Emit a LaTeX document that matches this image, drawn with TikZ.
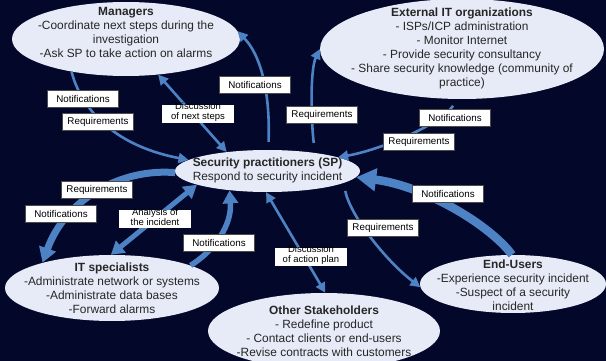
\documentclass[tikz,border=0pt]{standalone}
\usepackage{fontspec}
\setmainfont{Liberation Sans}
\usetikzlibrary{shapes.geometric,arrows.meta}
\definecolor{night}{RGB}{3,7,42}
\definecolor{pale}{RGB}{231,235,247}
\definecolor{linkblue}{RGB}{77,130,196}

\begin{document}
\begin{tikzpicture}[x=1pt,y=-1pt,
	stake/.style={ellipse, fill=pale, inner sep=0pt},
	who/.style={align=center, text=black!85, font=\fontsize{11.9}{14}\selectfont},
	tag/.style={draw=black!70, line width=0.5pt, fill=white, inner sep=0pt, minimum width=71pt, minimum height=17pt, font=\fontsize{9.8}{11}\selectfont},
	cut/.style={fill=white, inner sep=0pt, minimum width=72pt, minimum height=18pt},
	cuttext/.style={align=center, text=black, font=\fontsize{9.5}{10}\selectfont},
	link/.style={draw=linkblue, line width=2.6pt, -{Triangle[length=10pt,width=10pt]}},
	twoway/.style={draw=linkblue, line width=2.6pt, {Triangle[length=10pt,width=10pt]}-{Triangle[length=10pt,width=10pt]}},
	medium/.style={draw=linkblue, line width=5.5pt, -{Triangle[length=13pt,width=15pt]}},
	mediumtwo/.style={draw=linkblue, line width=5pt, {Triangle[length=13pt,width=15pt]}-{Triangle[length=13pt,width=15pt]}},
	heavy/.style={draw=linkblue, line width=8.5pt, -{Triangle[length=20pt,width=22pt]}}]

\fill[night] (0,0) rectangle (606,361);
\useasboundingbox (0,0) rectangle (606,361);
\clip (0,0) rectangle (606,361);

% stakeholders
\node[stake, minimum width=228pt, minimum height=74pt] (mgr) at (126,39) {};
\node[stake, minimum width=284pt, minimum height=100pt] (ext) at (462,49) {};
\node[stake, minimum width=185pt, minimum height=42pt] (sp) at (267.5,171) {};
\node[stake, minimum width=214pt, minimum height=66pt] (it) at (112,288) {};
\node[stake, minimum width=232pt, minimum height=76pt] (oth) at (324,331) {};
\node[stake, minimum width=186pt, minimum height=58pt] (eu) at (513,284) {};

\node[who] (mgr-t) at (126,32) {\textbf{Managers}\\-Coordinate next steps during the\\investigation\\-Ask SP to take action on alarms};
\node[who] (ext-t) at (462,48) {\textbf{External IT organizations}\\- ISPs/ICP administration\\- Monitor Internet\\- Provide security consultancy\\- Share security knowledge (community of\\practice)};
\node[who] (sp-t) at (267.5,170.5) {\textbf{Security practitioners (SP)}\\Respond to security incident};
\node[who] (it-t) at (112,288) {\textbf{IT specialists}\\-Administrate network or systems\\-Administrate data bases\\-Forward alarms};
\node[who] (oth-t) at (324,331) {\textbf{Other Stakeholders}\\- Redefine product\\- Contact clients or end-users\\-Revise contracts with customers};
\node[who] (eu-t) at (513,285) {\textbf{End-Users}\\-Experience security incident\\-Suspect of a security\\incident};

% flows
\draw[link] (mgr.211) .. controls (80,105) and (110,145) .. (sp.172);
\draw[twoway] (mgr.312) -- (sp.155);
\draw[link, shorten <=8pt] (sp.88) .. controls (270,105) and (265,60) .. (mgr.4);
\draw[link, shorten <=10pt] (sp.21) .. controls (311,120) and (310,70) .. (ext.180);
\draw[link, shorten <=8pt] (ext.265) .. controls (440,125) and (380,150) .. (sp.11);
\draw[heavy] (eu.92) .. controls (490,225) and (425,186) .. (sp.-4);
\draw[link, shorten <=8pt] (sp.-9) .. controls (350,215) and (385,260) .. (eu.182);
\draw[twoway] (sp.266) -- (oth.88);
\draw[medium] (it.16) .. controls (215,250) and (232,225) .. (sp.207);
\draw[mediumtwo] (it.92) -- (sp.191);
\draw[heavy, line width=7pt, -{Triangle[length=15pt,width=17pt]}] (sp.181) .. controls (120,168) and (65,200) .. (it.160);

% labels
\node[tag] (n1) at (83,99) {Notifications};
\node[tag] (r1) at (98,122) {Requirements};
\node[cut, label={[cuttext,yshift=2pt]center:Discussion\\of next steps}] (d1) at (198,114) {};
\node[tag] (n2) at (255,85) {Notifications};
\node[tag] (r2) at (322,115) {Requirements};
\node[tag] (n3) at (455,118) {Notifications};
\node[tag] (r3) at (419,142) {Requirements};
\node[tag] (r4) at (97,190) {Requirements};
\node[tag] (n4) at (61,214) {Notifications};
\node[cut, label={[cuttext,yshift=2pt]center:Analysis of\\the incident}] (a1) at (155,219) {};
\node[tag] (n5) at (219,243) {Notifications};
\node[cut, label={[cuttext,yshift=2pt]center:Discussion\\of action plan}] (d2) at (311,257) {};
\node[tag] (r5) at (383,228) {Requirements};
\node[tag] (n6) at (448,194) {Notifications};

\end{tikzpicture}
\end{document}
